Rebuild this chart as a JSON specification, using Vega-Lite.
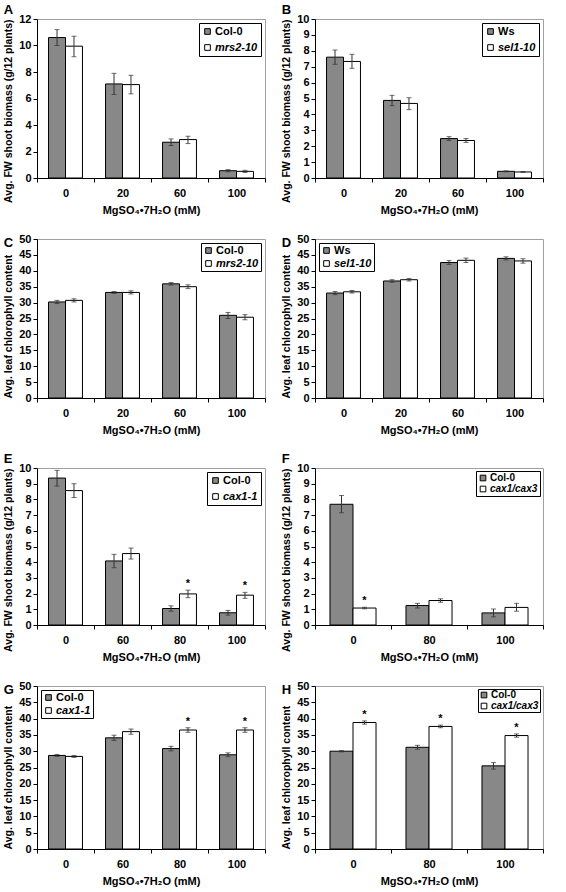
{
"$schema": "https://vega.github.io/schema/vega-lite/v6.json",
"padding": {"left": 3, "top": 3, "right": 3, "bottom": 3},
"background": "white",
"config": {
 "font": "Liberation Sans",
 "view": {"stroke": "#a0a0a0"},
 "title": {"anchor": "start", "frame": "bounds", "fontSize": 13, "fontWeight": "bold", "offset": -4, "color": "black"},
 "axisX": {"domainColor": "black", "tickColor": "black", "tickBand": "extent", "labelAngle": 0, "labelFontWeight": "bold", "labelFontSize": 11, "labelColor": "black", "titleFontWeight": "bold", "titleFontSize": 11, "titleColor": "black", "tickSize": 4, "labelPadding": 5, "titlePadding": 6},
 "axisY": {"domainColor": "black", "tickColor": "black", "grid": false, "labelFontWeight": "bold", "labelFontSize": 11, "labelColor": "black", "labelOverlap": false, "titleFontWeight": "bold", "titleFontSize": 10.5, "titleColor": "black", "tickSize": 4, "titlePadding": 5, "labelPadding": 2},
 "legend": {"strokeColor": "black", "fillColor": "white", "padding": 3, "rowPadding": 4, "offset": 4, "symbolType": "square", "symbolSize": 32, "symbolStrokeColor": "black", "symbolStrokeWidth": 1, "labelFontSize": 11, "labelFontWeight": "bold", "labelColor": "black", "labelOffset": 2}
},
"datasets": {"d": [
 {"p":"A","c":0,"g":"Col-0","v":10.6,"lo":10.0,"hi":11.2,"s":0},
 {"p":"A","c":0,"g":"mrs2-10","v":9.95,"lo":9.15,"hi":10.7,"s":0},
 {"p":"A","c":20,"g":"Col-0","v":7.1,"lo":6.3,"hi":7.9,"s":0},
 {"p":"A","c":20,"g":"mrs2-10","v":7.05,"lo":6.35,"hi":7.75,"s":0},
 {"p":"A","c":60,"g":"Col-0","v":2.7,"lo":2.45,"hi":2.95,"s":0},
 {"p":"A","c":60,"g":"mrs2-10","v":2.9,"lo":2.6,"hi":3.15,"s":0},
 {"p":"A","c":100,"g":"Col-0","v":0.55,"lo":0.47,"hi":0.63,"s":0},
 {"p":"A","c":100,"g":"mrs2-10","v":0.5,"lo":0.42,"hi":0.58,"s":0},
 {"p":"B","c":0,"g":"Ws","v":7.6,"lo":7.15,"hi":8.05,"s":0},
 {"p":"B","c":0,"g":"sel1-10","v":7.33,"lo":6.9,"hi":7.78,"s":0},
 {"p":"B","c":20,"g":"Ws","v":4.88,"lo":4.55,"hi":5.2,"s":0},
 {"p":"B","c":20,"g":"sel1-10","v":4.69,"lo":4.3,"hi":5.05,"s":0},
 {"p":"B","c":60,"g":"Ws","v":2.48,"lo":2.36,"hi":2.6,"s":0},
 {"p":"B","c":60,"g":"sel1-10","v":2.36,"lo":2.24,"hi":2.48,"s":0},
 {"p":"B","c":100,"g":"Ws","v":0.42,"lo":0.39,"hi":0.45,"s":0},
 {"p":"B","c":100,"g":"sel1-10","v":0.38,"lo":0.35,"hi":0.41,"s":0},
 {"p":"C","c":0,"g":"Col-0","v":30.2,"lo":29.7,"hi":30.7,"s":0},
 {"p":"C","c":0,"g":"mrs2-10","v":30.7,"lo":30.2,"hi":31.2,"s":0},
 {"p":"C","c":20,"g":"Col-0","v":33.2,"lo":32.9,"hi":33.5,"s":0},
 {"p":"C","c":20,"g":"mrs2-10","v":33.2,"lo":32.7,"hi":33.7,"s":0},
 {"p":"C","c":60,"g":"Col-0","v":35.9,"lo":35.5,"hi":36.3,"s":0},
 {"p":"C","c":60,"g":"mrs2-10","v":35.0,"lo":34.4,"hi":35.6,"s":0},
 {"p":"C","c":100,"g":"Col-0","v":26.0,"lo":25.0,"hi":26.9,"s":0},
 {"p":"C","c":100,"g":"mrs2-10","v":25.4,"lo":24.6,"hi":26.2,"s":0},
 {"p":"D","c":0,"g":"Ws","v":33.0,"lo":32.5,"hi":33.5,"s":0},
 {"p":"D","c":0,"g":"sel1-10","v":33.4,"lo":33.0,"hi":33.8,"s":0},
 {"p":"D","c":20,"g":"Ws","v":36.8,"lo":36.4,"hi":37.2,"s":0},
 {"p":"D","c":20,"g":"sel1-10","v":37.2,"lo":36.8,"hi":37.6,"s":0},
 {"p":"D","c":60,"g":"Ws","v":42.6,"lo":42.0,"hi":43.2,"s":0},
 {"p":"D","c":60,"g":"sel1-10","v":43.3,"lo":42.6,"hi":44.0,"s":0},
 {"p":"D","c":100,"g":"Ws","v":43.9,"lo":43.4,"hi":44.4,"s":0},
 {"p":"D","c":100,"g":"sel1-10","v":43.1,"lo":42.4,"hi":43.8,"s":0},
 {"p":"E","c":0,"g":"Col-0","v":9.36,"lo":8.85,"hi":9.85,"s":0},
 {"p":"E","c":0,"g":"cax1-1","v":8.56,"lo":8.12,"hi":9.0,"s":0},
 {"p":"E","c":60,"g":"Col-0","v":4.08,"lo":3.65,"hi":4.5,"s":0},
 {"p":"E","c":60,"g":"cax1-1","v":4.55,"lo":4.2,"hi":4.9,"s":0},
 {"p":"E","c":80,"g":"Col-0","v":1.05,"lo":0.88,"hi":1.22,"s":0},
 {"p":"E","c":80,"g":"cax1-1","v":1.98,"lo":1.74,"hi":2.22,"s":1},
 {"p":"E","c":100,"g":"Col-0","v":0.78,"lo":0.63,"hi":0.93,"s":0},
 {"p":"E","c":100,"g":"cax1-1","v":1.9,"lo":1.7,"hi":2.08,"s":1},
 {"p":"F","c":0,"g":"Col-0","v":7.69,"lo":7.15,"hi":8.25,"s":0},
 {"p":"F","c":0,"g":"cax1/cax3","v":1.08,"lo":1.03,"hi":1.13,"s":1},
 {"p":"F","c":80,"g":"Col-0","v":1.24,"lo":1.08,"hi":1.38,"s":0},
 {"p":"F","c":80,"g":"cax1/cax3","v":1.56,"lo":1.45,"hi":1.67,"s":0},
 {"p":"F","c":100,"g":"Col-0","v":0.77,"lo":0.52,"hi":1.02,"s":0},
 {"p":"F","c":100,"g":"cax1/cax3","v":1.12,"lo":0.88,"hi":1.38,"s":0},
 {"p":"G","c":0,"g":"Col-0","v":28.7,"lo":28.4,"hi":29.0,"s":0},
 {"p":"G","c":0,"g":"cax1-1","v":28.4,"lo":28.1,"hi":28.7,"s":0},
 {"p":"G","c":60,"g":"Col-0","v":34.1,"lo":33.3,"hi":34.9,"s":0},
 {"p":"G","c":60,"g":"cax1-1","v":36.0,"lo":35.2,"hi":36.8,"s":0},
 {"p":"G","c":80,"g":"Col-0","v":30.8,"lo":30.1,"hi":31.5,"s":0},
 {"p":"G","c":80,"g":"cax1-1","v":36.5,"lo":35.8,"hi":37.2,"s":1},
 {"p":"G","c":100,"g":"Col-0","v":28.9,"lo":28.3,"hi":29.5,"s":0},
 {"p":"G","c":100,"g":"cax1-1","v":36.5,"lo":35.8,"hi":37.2,"s":1},
 {"p":"H","c":0,"g":"Col-0","v":30.0,"lo":29.8,"hi":30.2,"s":0},
 {"p":"H","c":0,"g":"cax1/cax3","v":38.8,"lo":38.3,"hi":39.3,"s":1},
 {"p":"H","c":80,"g":"Col-0","v":31.2,"lo":30.6,"hi":31.8,"s":0},
 {"p":"H","c":80,"g":"cax1/cax3","v":37.6,"lo":37.2,"hi":38.0,"s":1},
 {"p":"H","c":100,"g":"Col-0","v":25.5,"lo":24.5,"hi":26.5,"s":0},
 {"p":"H","c":100,"g":"cax1/cax3","v":34.8,"lo":34.3,"hi":35.3,"s":1}
]},
"columns": 2,
"spacing": {"row": 16, "column": 15},
"resolve": {"scale": {"x": "independent", "y": "independent", "xOffset": "independent", "fill": "independent"}, "legend": {"fill": "independent"}},
"concat": [
 {"data": {"name": "d"}, "transform": [{"filter": "datum.p === 'A'"}], "title": {"text": "A"}, "width": 228, "height": 159,
  "resolve": {"axis": {"y": "independent"}},
  "encoding": {"x": {"field": "c", "type": "ordinal", "scale": {"paddingInner": 0, "paddingOuter": 0}, "axis": {"title": "MgSO₄•7H₂O (mM)"}},
   "xOffset": {"field": "g", "type": "nominal", "sort": null, "scale": {"paddingOuter": 0.68, "paddingInner": 0}}},
  "layer": [
   {"mark": {"type": "bar", "stroke": "black", "strokeWidth": 1}, "encoding": {"y": {"field": "v", "type": "quantitative", "scale": {"domain": [0, 12]}, "axis": {"values": [0,2,4,6,8,10,12], "title": "Avg. FW shoot biomass (g/12 plants)", "titleAnchor": "end"}},
     "fill": {"field": "g", "type": "nominal", "title": null, "scale": {"domain": ["Col-0", "mrs2-10"], "range": ["#888888", "#ffffff"]}, "legend": {"orient": "top-right", "encode": {"labels": {"update": {"fontStyle": {"signal": "datum.value === 'Col-0' || datum.value === 'Ws' ? 'normal' : 'italic'"}}}}}}}},
   {"mark": {"type": "rule", "color": "#333333"}, "encoding": {"y": {"field": "lo", "type": "quantitative", "axis": null}, "y2": {"field": "hi"}}},
   {"mark": {"type": "tick", "color": "#333333", "size": 5, "thickness": 1}, "encoding": {"y": {"field": "lo", "type": "quantitative", "axis": null}}},
   {"mark": {"type": "tick", "color": "#333333", "size": 5, "thickness": 1}, "encoding": {"y": {"field": "hi", "type": "quantitative", "axis": null}}}
  ]},
 {"data": {"name": "d"}, "transform": [{"filter": "datum.p === 'B'"}], "title": {"text": "B"}, "width": 228, "height": 159,
  "resolve": {"axis": {"y": "independent"}},
  "encoding": {"x": {"field": "c", "type": "ordinal", "scale": {"paddingInner": 0, "paddingOuter": 0}, "axis": {"title": "MgSO₄•7H₂O (mM)"}},
   "xOffset": {"field": "g", "type": "nominal", "sort": null, "scale": {"paddingOuter": 0.68, "paddingInner": 0}}},
  "layer": [
   {"mark": {"type": "bar", "stroke": "black", "strokeWidth": 1}, "encoding": {"y": {"field": "v", "type": "quantitative", "scale": {"domain": [0, 10]}, "axis": {"values": [0,1,2,3,4,5,6,7,8,9,10], "title": "Avg. FW shoot biomass (g/12 plants)", "titleAnchor": "end"}},
     "fill": {"field": "g", "type": "nominal", "title": null, "scale": {"domain": ["Ws", "sel1-10"], "range": ["#888888", "#ffffff"]}, "legend": {"orient": "top-right", "encode": {"labels": {"update": {"fontStyle": {"signal": "datum.value === 'Col-0' || datum.value === 'Ws' ? 'normal' : 'italic'"}}}}}}}},
   {"mark": {"type": "rule", "color": "#333333"}, "encoding": {"y": {"field": "lo", "type": "quantitative", "axis": null}, "y2": {"field": "hi"}}},
   {"mark": {"type": "tick", "color": "#333333", "size": 5, "thickness": 1}, "encoding": {"y": {"field": "lo", "type": "quantitative", "axis": null}}},
   {"mark": {"type": "tick", "color": "#333333", "size": 5, "thickness": 1}, "encoding": {"y": {"field": "hi", "type": "quantitative", "axis": null}}}
  ]},
 {"data": {"name": "d"}, "transform": [{"filter": "datum.p === 'C'"}], "title": {"text": "C", "dy": 13}, "width": 228, "height": 159,
  "resolve": {"axis": {"y": "independent"}},
  "encoding": {"x": {"field": "c", "type": "ordinal", "scale": {"paddingInner": 0, "paddingOuter": 0}, "axis": {"title": "MgSO₄•7H₂O (mM)"}},
   "xOffset": {"field": "g", "type": "nominal", "sort": null, "scale": {"paddingOuter": 0.68, "paddingInner": 0}}},
  "layer": [
   {"mark": {"type": "bar", "stroke": "black", "strokeWidth": 1}, "encoding": {"y": {"field": "v", "type": "quantitative", "scale": {"domain": [0, 50]}, "axis": {"values": [0,5,10,15,20,25,30,35,40,45,50], "title": "Avg. leaf chlorophyll content", "titleAnchor": "start"}},
     "fill": {"field": "g", "type": "nominal", "title": null, "scale": {"domain": ["Col-0", "mrs2-10"], "range": ["#888888", "#ffffff"]}, "legend": {"orient": "top-right", "padding": 2, "rowPadding": 1, "encode": {"labels": {"update": {"fontStyle": {"signal": "datum.value === 'Col-0' || datum.value === 'Ws' ? 'normal' : 'italic'"}}}}}}}},
   {"mark": {"type": "rule", "color": "#333333"}, "encoding": {"y": {"field": "lo", "type": "quantitative", "axis": null}, "y2": {"field": "hi"}}},
   {"mark": {"type": "tick", "color": "#333333", "size": 5, "thickness": 1}, "encoding": {"y": {"field": "lo", "type": "quantitative", "axis": null}}},
   {"mark": {"type": "tick", "color": "#333333", "size": 5, "thickness": 1}, "encoding": {"y": {"field": "hi", "type": "quantitative", "axis": null}}}
  ]},
 {"data": {"name": "d"}, "transform": [{"filter": "datum.p === 'D'"}], "title": {"text": "D", "dy": 13}, "width": 228, "height": 159,
  "resolve": {"axis": {"y": "independent"}},
  "encoding": {"x": {"field": "c", "type": "ordinal", "scale": {"paddingInner": 0, "paddingOuter": 0}, "axis": {"title": "MgSO₄•7H₂O (mM)"}},
   "xOffset": {"field": "g", "type": "nominal", "sort": null, "scale": {"paddingOuter": 0.68, "paddingInner": 0}}},
  "layer": [
   {"mark": {"type": "bar", "stroke": "black", "strokeWidth": 1}, "encoding": {"y": {"field": "v", "type": "quantitative", "scale": {"domain": [0, 50]}, "axis": {"values": [0,5,10,15,20,25,30,35,40,45,50], "title": "Avg. leaf chlorophyll content", "titleAnchor": "start"}},
     "fill": {"field": "g", "type": "nominal", "title": null, "scale": {"domain": ["Ws", "sel1-10"], "range": ["#888888", "#ffffff"]}, "legend": {"orient": "top-left", "padding": 2, "rowPadding": 1, "encode": {"labels": {"update": {"fontStyle": {"signal": "datum.value === 'Col-0' || datum.value === 'Ws' ? 'normal' : 'italic'"}}}}}}}},
   {"mark": {"type": "rule", "color": "#333333"}, "encoding": {"y": {"field": "lo", "type": "quantitative", "axis": null}, "y2": {"field": "hi"}}},
   {"mark": {"type": "tick", "color": "#333333", "size": 5, "thickness": 1}, "encoding": {"y": {"field": "lo", "type": "quantitative", "axis": null}}},
   {"mark": {"type": "tick", "color": "#333333", "size": 5, "thickness": 1}, "encoding": {"y": {"field": "hi", "type": "quantitative", "axis": null}}}
  ]},
 {"data": {"name": "d"}, "transform": [{"filter": "datum.p === 'E'"}], "title": {"text": "E"}, "width": 228, "height": 157,
  "resolve": {"axis": {"y": "independent"}},
  "encoding": {"x": {"field": "c", "type": "ordinal", "scale": {"paddingInner": 0, "paddingOuter": 0}, "axis": {"title": "MgSO₄•7H₂O (mM)"}},
   "xOffset": {"field": "g", "type": "nominal", "sort": null, "scale": {"paddingOuter": 0.68, "paddingInner": 0}}},
  "layer": [
   {"mark": {"type": "bar", "stroke": "black", "strokeWidth": 1}, "encoding": {"y": {"field": "v", "type": "quantitative", "scale": {"domain": [0, 10]}, "axis": {"values": [0,1,2,3,4,5,6,7,8,9,10], "title": "Avg. FW shoot biomass (g/12 plants)", "titleAnchor": "end"}},
     "fill": {"field": "g", "type": "nominal", "title": null, "scale": {"domain": ["Col-0", "cax1-1"], "range": ["#888888", "#ffffff"]}, "legend": {"orient": "top-right", "encode": {"labels": {"update": {"fontStyle": {"signal": "datum.value === 'Col-0' || datum.value === 'Ws' ? 'normal' : 'italic'"}}}}}}}},
   {"mark": {"type": "rule", "color": "#333333"}, "encoding": {"y": {"field": "lo", "type": "quantitative", "axis": null}, "y2": {"field": "hi"}}},
   {"mark": {"type": "tick", "color": "#333333", "size": 5, "thickness": 1}, "encoding": {"y": {"field": "lo", "type": "quantitative", "axis": null}}},
   {"mark": {"type": "tick", "color": "#333333", "size": 5, "thickness": 1}, "encoding": {"y": {"field": "hi", "type": "quantitative", "axis": null}}},
   {"transform": [{"filter": "datum.s === 1"}], "mark": {"type": "text", "text": "*", "baseline": "bottom", "dy": -1, "fontSize": 11, "fontWeight": "bold"}, "encoding": {"y": {"field": "hi", "type": "quantitative", "axis": null}}}
  ]},
 {"data": {"name": "d"}, "transform": [{"filter": "datum.p === 'F'"}], "title": {"text": "F"}, "width": 228, "height": 157,
  "resolve": {"axis": {"y": "independent"}},
  "encoding": {"x": {"field": "c", "type": "ordinal", "scale": {"paddingInner": 0, "paddingOuter": 0}, "axis": {"title": "MgSO₄•7H₂O (mM)"}},
   "xOffset": {"field": "g", "type": "nominal", "sort": null, "scale": {"paddingOuter": 0.65, "paddingInner": 0}}},
  "layer": [
   {"mark": {"type": "bar", "stroke": "black", "strokeWidth": 1}, "encoding": {"y": {"field": "v", "type": "quantitative", "scale": {"domain": [0, 10]}, "axis": {"values": [0,1,2,3,4,5,6,7,8,9,10], "title": "Avg. FW shoot biomass (g/12 plants)", "titleAnchor": "end"}},
     "fill": {"field": "g", "type": "nominal", "title": null, "scale": {"domain": ["Col-0", "cax1/cax3"], "range": ["#888888", "#ffffff"]}, "legend": {"orient": "top-right", "padding": 2, "rowPadding": 1, "offset": 3, "labelFontSize": 10, "encode": {"labels": {"update": {"fontStyle": {"signal": "datum.value === 'Col-0' || datum.value === 'Ws' ? 'normal' : 'italic'"}}}}}}}},
   {"mark": {"type": "rule", "color": "#333333"}, "encoding": {"y": {"field": "lo", "type": "quantitative", "axis": null}, "y2": {"field": "hi"}}},
   {"mark": {"type": "tick", "color": "#333333", "size": 5, "thickness": 1}, "encoding": {"y": {"field": "lo", "type": "quantitative", "axis": null}}},
   {"mark": {"type": "tick", "color": "#333333", "size": 5, "thickness": 1}, "encoding": {"y": {"field": "hi", "type": "quantitative", "axis": null}}},
   {"transform": [{"filter": "datum.s === 1"}], "mark": {"type": "text", "text": "*", "baseline": "bottom", "dy": -1, "fontSize": 11, "fontWeight": "bold"}, "encoding": {"y": {"field": "hi", "type": "quantitative", "axis": null}}}
  ]},
 {"data": {"name": "d"}, "transform": [{"filter": "datum.p === 'G'"}], "title": {"text": "G", "dy": 13}, "width": 228, "height": 163,
  "resolve": {"axis": {"y": "independent"}},
  "encoding": {"x": {"field": "c", "type": "ordinal", "scale": {"paddingInner": 0, "paddingOuter": 0}, "axis": {"title": "MgSO₄•7H₂O (mM)"}},
   "xOffset": {"field": "g", "type": "nominal", "sort": null, "scale": {"paddingOuter": 0.68, "paddingInner": 0}}},
  "layer": [
   {"mark": {"type": "bar", "stroke": "black", "strokeWidth": 1}, "encoding": {"y": {"field": "v", "type": "quantitative", "scale": {"domain": [0, 50]}, "axis": {"values": [0,5,10,15,20,25,30,35,40,45,50], "title": "Avg. leaf chlorophyll content", "titleAnchor": "start"}},
     "fill": {"field": "g", "type": "nominal", "title": null, "scale": {"domain": ["Col-0", "cax1-1"], "range": ["#888888", "#ffffff"]}, "legend": {"orient": "top-left", "padding": 2, "rowPadding": 1, "encode": {"labels": {"update": {"fontStyle": {"signal": "datum.value === 'Col-0' || datum.value === 'Ws' ? 'normal' : 'italic'"}}}}}}}},
   {"mark": {"type": "rule", "color": "#333333"}, "encoding": {"y": {"field": "lo", "type": "quantitative", "axis": null}, "y2": {"field": "hi"}}},
   {"mark": {"type": "tick", "color": "#333333", "size": 5, "thickness": 1}, "encoding": {"y": {"field": "lo", "type": "quantitative", "axis": null}}},
   {"mark": {"type": "tick", "color": "#333333", "size": 5, "thickness": 1}, "encoding": {"y": {"field": "hi", "type": "quantitative", "axis": null}}},
   {"transform": [{"filter": "datum.s === 1"}], "mark": {"type": "text", "text": "*", "baseline": "bottom", "dy": -1, "fontSize": 11, "fontWeight": "bold"}, "encoding": {"y": {"field": "hi", "type": "quantitative", "axis": null}}}
  ]},
 {"data": {"name": "d"}, "transform": [{"filter": "datum.p === 'H'"}], "title": {"text": "H", "dy": 13}, "width": 228, "height": 163,
  "resolve": {"axis": {"y": "independent"}},
  "encoding": {"x": {"field": "c", "type": "ordinal", "scale": {"paddingInner": 0, "paddingOuter": 0}, "axis": {"title": "MgSO₄•7H₂O (mM)"}},
   "xOffset": {"field": "g", "type": "nominal", "sort": null, "scale": {"paddingOuter": 0.65, "paddingInner": 0}}},
  "layer": [
   {"mark": {"type": "bar", "stroke": "black", "strokeWidth": 1}, "encoding": {"y": {"field": "v", "type": "quantitative", "scale": {"domain": [0, 50]}, "axis": {"values": [0,5,10,15,20,25,30,35,40,45,50], "title": "Avg. leaf chlorophyll content", "titleAnchor": "start"}},
     "fill": {"field": "g", "type": "nominal", "title": null, "scale": {"domain": ["Col-0", "cax1/cax3"], "range": ["#888888", "#ffffff"]}, "legend": {"orient": "top-right", "padding": 1, "rowPadding": 1, "offset": 3, "labelFontSize": 10, "encode": {"labels": {"update": {"fontStyle": {"signal": "datum.value === 'Col-0' || datum.value === 'Ws' ? 'normal' : 'italic'"}}}}}}}},
   {"mark": {"type": "rule", "color": "#333333"}, "encoding": {"y": {"field": "lo", "type": "quantitative", "axis": null}, "y2": {"field": "hi"}}},
   {"mark": {"type": "tick", "color": "#333333", "size": 5, "thickness": 1}, "encoding": {"y": {"field": "lo", "type": "quantitative", "axis": null}}},
   {"mark": {"type": "tick", "color": "#333333", "size": 5, "thickness": 1}, "encoding": {"y": {"field": "hi", "type": "quantitative", "axis": null}}},
   {"transform": [{"filter": "datum.s === 1"}], "mark": {"type": "text", "text": "*", "baseline": "bottom", "dy": -1, "fontSize": 11, "fontWeight": "bold"}, "encoding": {"y": {"field": "hi", "type": "quantitative", "axis": null}}}
  ]}
]
}
